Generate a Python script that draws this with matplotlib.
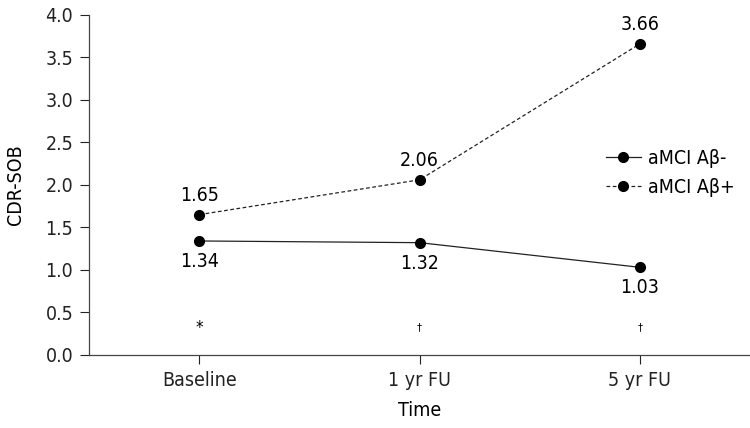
import matplotlib
matplotlib.use("Agg")
import matplotlib.pyplot as plt

plt.rcParams['font.family'] = ['DejaVu Sans']
plt.rcParams['font.stretch'] = 'condensed'

# data
times = ["Baseline", "1 yr FU", "5 yr FU"]
neg = [1.34, 1.32, 1.03]
pos = [1.65, 2.06, 3.66]
sig = ["*", "\u2020", "\u2020"]
yticks = [0.0, 0.5, 1.0, 1.5, 2.0, 2.5, 3.0, 3.5, 4.0]

fig = plt.figure(figsize=(7.5, 4.28), dpi=100)
ax = fig.add_axes([0.119, 0.171, 0.881, 0.794])

x = list(range(len(times)))
ax.plot(x, neg, '-', color='#222222', lw=0.9, marker='o', ms=7,
        mfc='black', mec='black', label='aMCI A\u03b2-')
ax.plot(x, pos, '--', color='#222222', lw=0.9, dashes=(3, 2), marker='o', ms=7,
        mfc='black', mec='black', label='aMCI A\u03b2+')

for xi, v in zip(x, pos):
    ax.annotate(f"{v:.2f}", (xi, v), xytext=(0, 7), textcoords='offset points',
                ha='center', va='bottom', fontsize=14)
for xi, v in zip(x, neg):
    ax.annotate(f"{v:.2f}", (xi, v), xytext=(0, -8), textcoords='offset points',
                ha='center', va='top', fontsize=14)
for xi, s in zip(x, sig):
    ax.text(xi, 0.32, s, ha='center', va='center',
            fontsize=12 if s == "*" else 8)

ax.set_xlim(-0.5, 2.5)
ax.set_ylim(0, 4.0)
ax.set_xticks(x)
ax.set_xticklabels(times)
ax.set_yticks(yticks)
ax.set_yticklabels([f"{t:.1f}" for t in yticks])
ax.tick_params(labelsize=14, colors='#222222', length=6.5, width=0.8, pad=5)
ax.spines['top'].set_visible(False)
ax.spines['right'].set_visible(False)
for s in ('left', 'bottom'):
    ax.spines[s].set_color('#444444')
    ax.spines[s].set_linewidth(0.9)
ax.set_xlabel("Time", fontsize=14, labelpad=8)
ax.set_ylabel("CDR-SOB", fontsize=14, labelpad=15)

ax.legend(loc='center left', bbox_to_anchor=(0.755, 0.535), frameon=False,
          fontsize=14, handlelength=1.8, handletextpad=0.4, labelspacing=0.5)

fig.savefig("out.png", dpi=100)
